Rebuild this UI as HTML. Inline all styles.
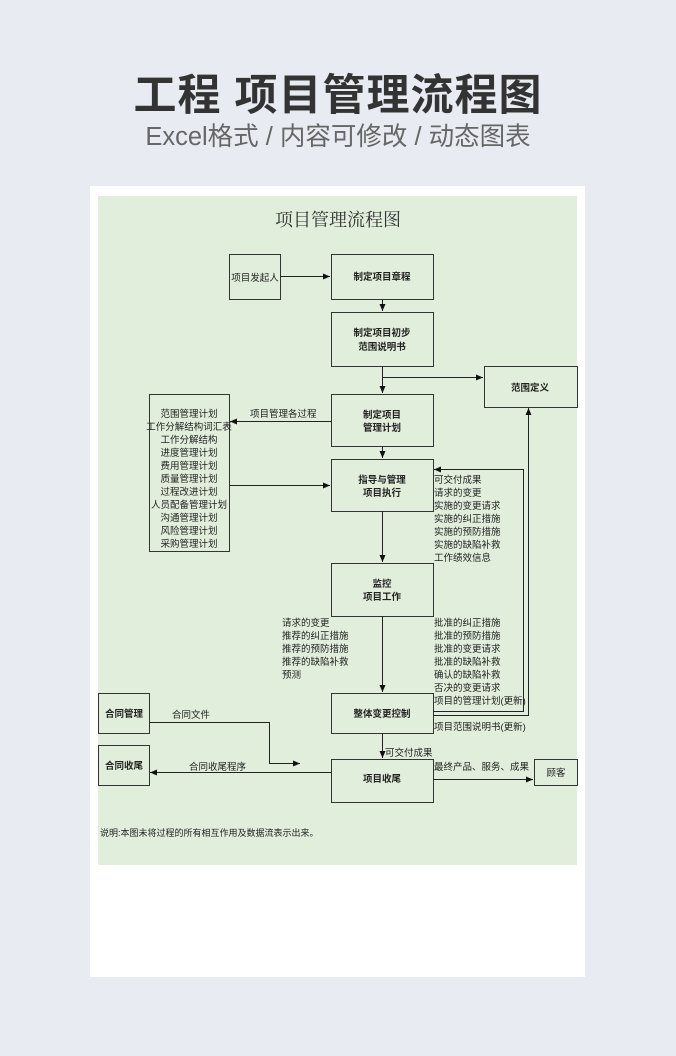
<!DOCTYPE html>
<html><head><meta charset="utf-8"><style>
html,body{margin:0;padding:0;}
body{width:676px;height:1056px;background:#e8ecf2;position:relative;overflow:hidden;font-family:"Liberation Sans","Noto Sans CJK SC",sans-serif;}
.h1{position:absolute;top:66px;left:0;width:676px;text-align:center;font-size:43px;font-weight:bold;color:#333;letter-spacing:1px;line-height:60px;}
.h2{position:absolute;top:121px;left:0;width:676px;text-align:center;font-size:25.5px;color:#666;line-height:32px;}
.card{position:absolute;left:90px;top:186px;width:495px;height:791px;background:#fff;}
svg{position:absolute;left:0;top:0;}
</style></head><body>
<div class="h1">工程 项目管理流程图</div>
<div class="h2">Excel格式 / 内容可修改 / 动态图表</div>
<div class="card"></div>
<svg width="676" height="1056" viewBox="0 0 676 1056" font-family="Liberation Sans, Noto Sans CJK SC, sans-serif" font-size="9.5" fill="#222">
<defs><marker id="a" markerWidth="8" markerHeight="8" refX="7" refY="4" orient="auto" markerUnits="userSpaceOnUse"><path d="M0,1 L7,4 L0,7 Z" fill="#111"/></marker></defs>
<rect x="98" y="196" width="479" height="669" fill="#e1eedb"/>
<text x="338" y="226" font-size="18" text-anchor="middle" font-family="Noto Serif CJK SC, serif" fill="#333">项目管理流程图</text>
<g fill="none" stroke="#333" stroke-width="1">
<rect x="229.5" y="254.5" width="51" height="45"/>
<rect x="331.5" y="254.5" width="102" height="45"/>
<rect x="331.5" y="312.5" width="102" height="54"/>
<rect x="484.5" y="366.5" width="93" height="41"/>
<rect x="149.5" y="394.5" width="80" height="157"/>
<rect x="331.5" y="394.5" width="102" height="52"/>
<rect x="331.5" y="459.5" width="102" height="52"/>
<rect x="331.5" y="563.5" width="102" height="53"/>
<rect x="331.5" y="693.5" width="102" height="40"/>
<rect x="331.5" y="759.5" width="102" height="43"/>
<rect x="98.5" y="693.5" width="51" height="40"/>
<rect x="98.5" y="745.5" width="51" height="40"/>
<rect x="534.5" y="759.5" width="43" height="26"/>
</g>
<g fill="none" stroke="#222" stroke-width="1" marker-end="url(#a)">
<path d="M280,276.5 H330"/>
<path d="M382.5,299 V311"/>
<path d="M382.5,366 V393"/>
<path d="M382.5,377.5 H483"/>
<path d="M331,421.5 H230"/>
<path d="M382.5,446 V458"/>
<path d="M229,485.5 H330"/>
<path d="M382.5,511 V562"/>
<path d="M382.5,616 V692"/>
<path d="M382.5,733 V758"/>
<path d="M433,711.5 H523.5 V469.5 H434"/>
<path d="M433,715.5 H528.5 V408"/>
<path d="M149,722.5 H269.5 V763.5 H300"/>
<path d="M331,772.5 H150"/>
<path d="M433,779.5 H533"/>
</g>
<g font-weight="bold" text-anchor="middle" font-size="9.5">
<text x="382" y="280">制定项目章程</text>
<text x="382" y="336">制定项目初步</text><text x="382" y="350">范围说明书</text>
<text x="530" y="391">范围定义</text>
<text x="382" y="418">制定项目</text><text x="382" y="431">管理计划</text>
<text x="382" y="483">指导与管理</text><text x="382" y="496">项目执行</text>
<text x="382" y="587">监控</text><text x="382" y="600">项目工作</text>
<text x="382" y="717">整体变更控制</text>
<text x="382" y="782">项目收尾</text>
<text x="124" y="717">合同管理</text>
<text x="124" y="769">合同收尾</text>
</g>
<text x="255" y="281" text-anchor="middle">项目发起人</text>
<text x="556" y="776" text-anchor="middle">顾客</text>
<g text-anchor="middle">
<text x="189" y="417">范围管理计划</text><text x="189" y="430">工作分解结构词汇表</text><text x="189" y="443">工作分解结构</text><text x="189" y="456">进度管理计划</text><text x="189" y="469">费用管理计划</text><text x="189" y="482">质量管理计划</text><text x="189" y="495">过程改进计划</text><text x="189" y="508">人员配备管理计划</text><text x="189" y="521">沟通管理计划</text><text x="189" y="534">风险管理计划</text><text x="189" y="547">采购管理计划</text>
</g>
<text x="250" y="417">项目管理各过程</text>
<g>
<text x="434" y="483">可交付成果</text><text x="434" y="496">请求的变更</text><text x="434" y="509">实施的变更请求</text><text x="434" y="522">实施的纠正措施</text><text x="434" y="535">实施的预防措施</text><text x="434" y="548">实施的缺陷补救</text><text x="434" y="561">工作绩效信息</text>
<text x="282" y="626">请求的变更</text><text x="282" y="639">推荐的纠正措施</text><text x="282" y="652">推荐的预防措施</text><text x="282" y="665">推荐的缺陷补救</text><text x="282" y="678">预测</text>
<text x="434" y="626">批准的纠正措施</text><text x="434" y="639">批准的预防措施</text><text x="434" y="652">批准的变更请求</text><text x="434" y="665">批准的缺陷补救</text><text x="434" y="678">确认的缺陷补救</text><text x="434" y="691">否决的变更请求</text><text x="434" y="704">项目的管理计划(更新)</text>
<text x="434" y="730">项目范围说明书(更新)</text>
<text x="172" y="718">合同文件</text>
<text x="189" y="770">合同收尾程序</text>
<text x="385" y="756">可交付成果</text>
<text x="434" y="770">最终产品、服务、成果</text>
<text x="100" y="836" font-size="9">说明:本图未将过程的所有相互作用及数据流表示出来。</text>
</g>
</svg>
</body></html>
